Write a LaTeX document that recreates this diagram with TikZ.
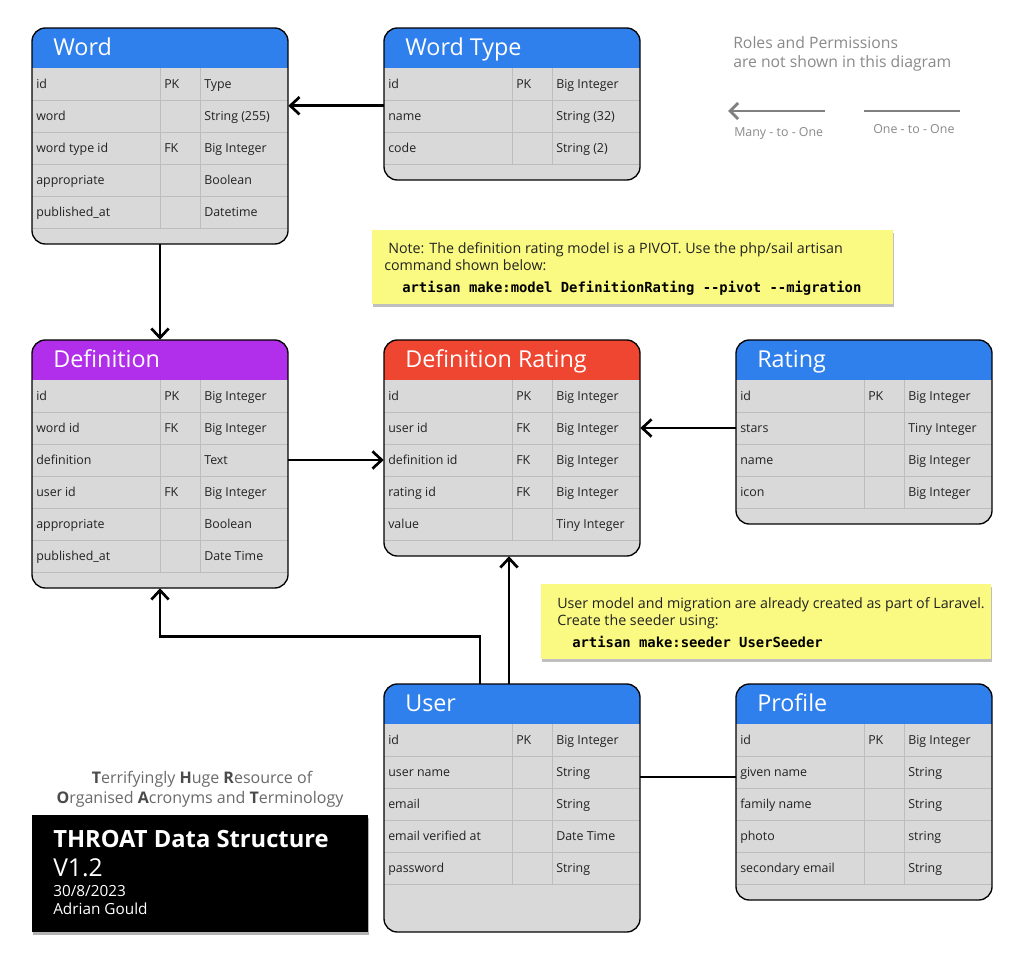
\documentclass[tikz,border=0pt]{standalone}
\usepackage{fontspec}
\setmainfont{Open Sans}
\newfontfamily\monof{DejaVu Sans Mono}
\usetikzlibrary{arrows.meta,shadows,calc}
\definecolor{hblue}{HTML}{2F80ED}
\definecolor{hpurple}{HTML}{B12FEB}
\definecolor{hred}{HTML}{EF4631}
\definecolor{rowfill}{HTML}{D9D9D9}
\definecolor{gridc}{HTML}{BDBDBD}
\definecolor{notey}{HTML}{FAFA82}
\definecolor{legc}{HTML}{808080}
\definecolor{legt}{HTML}{8A8A8A}
\definecolor{ink}{HTML}{222222}
\definecolor{ttl}{HTML}{6A6A6A}
\definecolor{ttlb}{HTML}{4A4A4A}
\tikzset{
  tabbox/.style={inner sep=0pt, minimum width=192pt},
  rowbox/.style={inner sep=0pt, minimum width=192pt, minimum height=24pt},
  cell/.style={anchor=base west, inner sep=0pt, font=\fontsize{9.3}{11}\selectfont, text=ink},
  htext/.style={anchor=base west, inner sep=0pt, font=\fontsize{17.5}{20}\selectfont, text=white},
  gridline/.style={draw=gridc, line width=0.75pt},
  conn/.style={line width=2pt, -{Straight Barb[length=7pt,width=13pt]}},
  link/.style={line width=2pt},
  legarrow/.style={draw=legc, line width=2.2pt, -{Straight Barb[length=6pt,width=12pt]}},
  legline/.style={draw=legc, line width=2.2pt},
  legtext/.style={anchor=base west, inner sep=0pt, text=legt, font=\fontsize{11.8}{13.5}\selectfont},
  legsmall/.style={anchor=base west, inner sep=0pt, text=legt, font=\fontsize{9.3}{10}\selectfont},
  notebox/.style={fill=notey, inner sep=0pt, drop shadow={shadow xshift=0.6pt, shadow yshift=-1.8pt, opacity=0.25, fill=black}},
  notetext/.style={anchor=base west, inner sep=0pt, text=ink, font=\fontsize{10.7}{12}\selectfont},
  monotext/.style={anchor=base west, inner sep=0pt, text=black, font=\monof\bfseries\fontsize{10.4}{12}\selectfont},
  titlebox/.style={fill=black, inner sep=0pt, drop shadow={shadow xshift=0.6pt, shadow yshift=-1.8pt, opacity=0.3, fill=black}},
  ttltext/.style={anchor=base, inner sep=0pt, text=ttl, font=\fontsize{12}{13}\selectfont},
  boxtext/.style={anchor=base west, inner sep=0pt, text=white},
}
\newcommand\ertab[7]{%
  \node[tabbox, minimum height={(#4-#3)*0.75pt}] (#1) at ({#2+128},{(#3+#4)/2}) {};
  \begin{scope}
    \clip[rounded corners=10pt] (#2,#3) rectangle ({#2+256},#4);
    \fill[rowfill] (#2,#3) rectangle ({#2+256},#4);
    \fill[#5] (#2,#3) rectangle ({#2+256},{#3+40});
  \end{scope}
  \foreach \na/\ke/\ty [count=\k] in {#7} {%
    \node[rowbox] (#1-\k) at ({#2+128},{#3+24+32*\k}) {};
    \draw[gridline] ({#2+128},{#3+8+32*\k}) -- ++(0,32);
    \draw[gridline] ({#2+168},{#3+8+32*\k}) -- ++(0,32);
    \draw[gridline] (#2,{#3+40+32*\k}) -- ++(256,0);
    \node[cell] at ({#2+4},{#3+28+32*\k}) {\na};
    \node[cell] at ({#2+132},{#3+28+32*\k}) {\ke};
    \node[cell] at ({#2+172},{#3+28+32*\k}) {\ty};
  }
  \draw[line width=1pt, rounded corners=10pt] (#2,#3) rectangle ({#2+256},#4);
  \node[htext] at ({#2+21},{#3+27}) {#6};
}
\begin{document}
\begin{tikzpicture}[x=0.75pt, y=-0.75pt]
\useasboundingbox[fill=white] (0,0) rectangle (1024,960);

\ertab{word}{32}{28}{244}{hblue}{Word}{id/PK/Type,word//String (255),word type id/FK/Big Integer,appropriate//Boolean,published\_at//Datetime}
\ertab{wtype}{384}{28}{180}{hblue}{Word Type}{id/PK/Big Integer,name//String (32),code//String (2)}
\ertab{def}{32}{340}{588}{hpurple}{Definition}{id/PK/Big Integer,word id/FK/Big Integer,definition//Text,user id/FK/Big Integer,appropriate//Boolean,published\_at//Date Time}
\ertab{dr}{384}{340}{556}{hred}{Definition Rating}{id/PK/Big Integer,user id/FK/Big Integer,definition id/FK/Big Integer,rating id/FK/Big Integer,value//Tiny Integer}
\ertab{rating}{736}{340}{524}{hblue}{Rating}{id/PK/Big Integer,stars//Tiny Integer,name//Big Integer,icon//Big Integer}
\ertab{user}{384}{684}{932}{hblue}{User}{id/PK/Big Integer,user name//String,email//String,email verified at//Date Time,password//String}
\ertab{prof}{736}{684}{900}{hblue}{Profile}{id/PK/Big Integer,given name//String,family name//String,photo//string,secondary email//String}

% connectors
\draw[conn] ([yshift=-4.5pt]wtype-2.north west) -- ([yshift=-4.5pt]word-2.north east);
\draw[conn] (word.south) -- (def.north);
\draw[conn] (def-3.east) -- (dr-3.west);
\draw[conn] (rating-2.west) -- (dr-2.east);
\draw[conn] ([xshift=-2.25pt]user.north) -- ([xshift=-2.25pt]dr.south);
\draw[conn] ([xshift=-24pt]user.north) |- ([yshift=-36pt]def.south) -- (def.south);
\draw[link] ([yshift=-3.75pt]user-2.east) -- ([yshift=-3.75pt]prof-2.west);

% legend
\node[legtext] (roles1) at (733,48) {Roles and Permissions};
\node[legtext] (roles2) at (733,67) {are not shown in this diagram};
\coordinate (m2os) at (825,111);
\coordinate (m2oe) at (728,111);
\draw[legarrow] (m2os) -- (m2oe);
\node[legsmall] (m2ol) at (734,136) {Many - to - One};
\coordinate (o2os) at (864,111);
\coordinate (o2oe) at (960,111);
\draw[legline] (o2os) -- (o2oe);
\node[legsmall] (o2ol) at (873,133) {One - to - One};

% note 1
\node[notebox, minimum width={521*0.75pt}, minimum height={74*0.75pt}, anchor=north west] (note1) at (372,230) {};
\node[notetext] (n1a) at (388,253) {Note: The definition rating model is a PIVOT. Use the php/sail artisan};
\node[notetext] (n1b) at (384,270) {command shown below:};
\node[monotext] (n1c) at (402,292) {artisan make:model DefinitionRating --pivot --migration};

% note 2
\node[notebox, minimum width={450*0.75pt}, minimum height={75*0.75pt}, anchor=north west] (note2) at (541,584) {};
\node[notetext] (n2a) at (557,608) {User model and migration are already created as part of Laravel.};
\node[notetext] (n2b) at (557,625) {Create the seeder using:};
\node[monotext] (n2c) at (572,647) {artisan make:seeder UserSeeder};

% title
\node[ttltext] (t1) at (202,783) {{\color{ttlb}\bfseries T}errifyingly {\color{ttlb}\bfseries H}uge {\color{ttlb}\bfseries R}esource of};
\node[ttltext] (t2) at (200,803) {{\color{ttlb}\bfseries O}rganised {\color{ttlb}\bfseries A}cronyms and {\color{ttlb}\bfseries T}erminology};
\node[titlebox, minimum width={336*0.75pt}, minimum height={117*0.75pt}, anchor=north west] (tbox) at (32,815) {};
\node[boxtext, font=\bfseries\fontsize{17.8}{21}\selectfont] (tb1) at (53,847) {THROAT Data Structure};
\node[boxtext, font=\fontsize{18.5}{21}\selectfont] (tb2) at (53,876) {V1.2};
\node[boxtext, font=\fontsize{11.5}{13}\selectfont] (tb3) at (53,896) {30/8/2023};
\node[boxtext, font=\fontsize{11.5}{13}\selectfont] (tb4) at (53,914) {Adrian Gould};
\end{tikzpicture}
\end{document}
